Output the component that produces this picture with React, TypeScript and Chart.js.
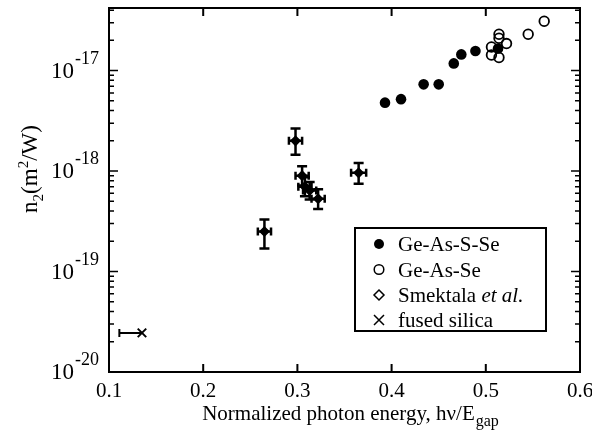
import React, { useEffect, useRef } from "react";
import { Chart, registerables } from "chart.js";
Chart.register(...registerables);

// Ge-As-S-Se (filled circles)
const gassX = [0.393, 0.41, 0.434, 0.45, 0.466, 0.474, 0.489, 0.513];
const gassY = [4.8e-18, 5.2e-18, 7.3e-18, 7.3e-18, 1.18e-17, 1.45e-17, 1.57e-17, 1.66e-17];

// Ge-As-Se (open circles)
const gasX = [0.514, 0.514, 0.522, 0.506, 0.506, 0.514, 0.545, 0.562];
const gasY = [2.3e-17, 2.1e-17, 1.86e-17, 1.72e-17, 1.43e-17, 1.35e-17, 2.3e-17, 3.1e-17];

// Smektala et al. (diamonds with error bars)
const smkX = [0.265, 0.298, 0.305, 0.308, 0.313, 0.322, 0.365];
const smkY = [2.5e-19, 2.0e-18, 9.0e-19, 7.0e-19, 6.4e-19, 5.3e-19, 9.6e-19];
const smkYLo = [1.7e-19, 1.45e-18, 7.2e-19, 5.6e-19, 5.2e-19, 4.2e-19, 7.5e-19];
const smkYHi = [3.3e-19, 2.65e-18, 1.12e-18, 8.7e-19, 7.8e-19, 6.6e-19, 1.2e-18];
const smkXErr = [0.007, 0.007, 0.007, 0.007, 0.007, 0.007, 0.008];

// fused silica (cross)
const fsX = [0.135];
const fsY = [2.45e-20];
const fsXLo = [0.111];

// axis ticks
const xTicks = [0.1, 0.2, 0.3, 0.4, 0.5, 0.6];
const xTickLabels = ["0.1", "0.2", "0.3", "0.4", "0.5", "0.6"];
const yDecades = [-20, -19, -18, -17];
const yMin = 1e-20;
const yMax = 4.2e-17;

const legendLabels = ["Ge-As-S-Se", "Ge-As-Se", "Smektala", "fused silica"];

const SERIF = '"Liberation Serif", "DejaVu Serif", serif';

const decor = {
  id: "decor",
  afterDatasetsDraw(chart: any) {
    const ctx = chart.ctx as CanvasRenderingContext2D;
    const xs = chart.scales.x;
    const ys = chart.scales.y;
    const ca = chart.chartArea;
    ctx.save();
    ctx.strokeStyle = "#000";
    ctx.fillStyle = "#000";

    // error bars (Smektala)
    ctx.lineWidth = 2.5;
    for (let i = 0; i < smkX.length; i++) {
      const px = xs.getPixelForValue(smkX[i]);
      const py = ys.getPixelForValue(smkY[i]);
      const yl = ys.getPixelForValue(smkYLo[i]);
      const yh = ys.getPixelForValue(smkYHi[i]);
      const xl = xs.getPixelForValue(smkX[i] - smkXErr[i]);
      const xh = xs.getPixelForValue(smkX[i] + smkXErr[i]);
      ctx.beginPath();
      ctx.moveTo(px, yl); ctx.lineTo(px, yh);
      ctx.moveTo(px - 5, yl); ctx.lineTo(px + 5, yl);
      ctx.moveTo(px - 5, yh); ctx.lineTo(px + 5, yh);
      ctx.moveTo(xl, py); ctx.lineTo(xh, py);
      ctx.moveTo(xl, py - 4); ctx.lineTo(xl, py + 4);
      ctx.moveTo(xh, py - 4); ctx.lineTo(xh, py + 4);
      ctx.stroke();
    }
    // fused silica horizontal bar
    ctx.lineWidth = 2;
    for (let i = 0; i < fsX.length; i++) {
      const px = xs.getPixelForValue(fsX[i]);
      const py = ys.getPixelForValue(fsY[i]);
      const xl = xs.getPixelForValue(fsXLo[i]);
      ctx.beginPath();
      ctx.moveTo(xl, py); ctx.lineTo(px, py);
      ctx.moveTo(xl, py - 4); ctx.lineTo(xl, py + 4);
      ctx.stroke();
    }

    // frame
    ctx.lineWidth = 2;
    ctx.strokeRect(ca.left, ca.top, ca.right - ca.left, ca.bottom - ca.top);

    // x ticks
    ctx.lineWidth = 2;
    ctx.beginPath();
    for (const v of xTicks) {
      const px = xs.getPixelForValue(v);
      ctx.moveTo(px, ca.bottom); ctx.lineTo(px, ca.bottom - 8);
      ctx.moveTo(px, ca.top); ctx.lineTo(px, ca.top + 8);
    }
    ctx.stroke();
    // y ticks
    ctx.lineWidth = 1.5;
    ctx.beginPath();
    for (const d of yDecades.concat([-16])) {
      for (let m = 1; m <= 9; m++) {
        const v = m * Math.pow(10, d);
        if (v < yMin * 0.999 || v > yMax) continue;
        const py = ys.getPixelForValue(v);
        const len = m === 1 ? 9 : 5;
        ctx.moveTo(ca.left, py); ctx.lineTo(ca.left + len, py);
        ctx.moveTo(ca.right, py); ctx.lineTo(ca.right - len, py);
      }
    }
    ctx.stroke();

    // x tick labels
    ctx.font = `21px ${SERIF}`;
    ctx.textAlign = "center";
    ctx.textBaseline = "alphabetic";
    xTicks.forEach((v, i) => {
      ctx.fillText(xTickLabels[i], xs.getPixelForValue(v), ca.bottom + 25);
    });

    // y tick labels
    for (const d of yDecades) {
      const py = ys.getPixelForValue(Math.pow(10, d));
      const sup = String(d);
      ctx.font = `18px ${SERIF}`;
      const sw = ctx.measureText(sup).width + 2;
      ctx.textAlign = "left";
      ctx.fillText(sup, 101 - sw, py - 7);
      ctx.font = `23px ${SERIF}`;
      ctx.textAlign = "right";
      ctx.fillText("10", 100 - sw, py + 7);
    }

    // x title
    ctx.textAlign = "left";
    ctx.font = `21px ${SERIF}`;
    const main = "Normalized photon energy, h\u03bd/E";
    const mw = ctx.measureText(main).width;
    ctx.font = `16px ${SERIF}`;
    const gw = ctx.measureText("gap").width;
    const x0 = 350 - (mw + gw) / 2;
    ctx.font = `21px ${SERIF}`;
    ctx.fillText(main, x0, 420);
    ctx.font = `16px ${SERIF}`;
    ctx.fillText("gap", x0 + mw + 1, 426);

    // y title
    ctx.save();
    ctx.translate(37, 169);
    ctx.rotate(-Math.PI / 2);
    const parts: [string, number, number][] = [
      ["n", 23, 0], ["2", 15, 6], ["(m", 23, 0], ["2", 15, -9], ["/W)", 23, 0],
    ];
    let tw = 0;
    for (const [t, s] of parts) { ctx.font = `${s}px ${SERIF}`; tw += ctx.measureText(t).width; }
    let cx = -tw / 2;
    for (const [t, s, dy] of parts) {
      ctx.font = `${s}px ${SERIF}`;
      ctx.fillText(t, cx, dy);
      cx += ctx.measureText(t).width;
    }
    ctx.restore();

    // legend
    const lx = 355, ly = 228, lw = 191, lh = 103;
    ctx.lineWidth = 2;
    ctx.strokeRect(lx, ly, lw, lh);
    const rowY = [244, 269.5, 295, 320];
    const mx = 379;
    ctx.lineWidth = 1.5;
    // filled circle
    ctx.beginPath(); ctx.arc(mx, rowY[0], 5, 0, Math.PI * 2); ctx.fill();
    // open circle
    ctx.beginPath(); ctx.arc(mx, rowY[1], 4.8, 0, Math.PI * 2); ctx.stroke();
    // diamond
    ctx.beginPath();
    ctx.moveTo(mx, rowY[2] - 5); ctx.lineTo(mx + 5, rowY[2]); ctx.lineTo(mx, rowY[2] + 5); ctx.lineTo(mx - 5, rowY[2]); ctx.closePath();
    ctx.stroke();
    // cross
    ctx.beginPath();
    ctx.moveTo(mx - 5, rowY[3] - 5); ctx.lineTo(mx + 5, rowY[3] + 5);
    ctx.moveTo(mx + 5, rowY[3] - 5); ctx.lineTo(mx - 5, rowY[3] + 5);
    ctx.stroke();
    ctx.textAlign = "left";
    ctx.font = `21px ${SERIF}`;
    const tx = 398;
    ctx.fillText(legendLabels[0], tx, rowY[0] + 7);
    ctx.fillText(legendLabels[1], tx, rowY[1] + 7);
    ctx.fillText(legendLabels[2] + " ", tx, rowY[2] + 7);
    const sw2 = ctx.measureText(legendLabels[2] + " ").width;
    ctx.font = `italic 21px ${SERIF}`;
    ctx.fillText("et al.", tx + sw2, rowY[2] + 7);
    ctx.font = `21px ${SERIF}`;
    ctx.fillText(legendLabels[3], tx, rowY[3] + 7);

    ctx.restore();
  },
};

export default function App() {
  const ref = useRef<HTMLCanvasElement>(null);
  useEffect(() => {
    const toPts = (xa: number[], ya: number[]) => xa.map((x, i) => ({ x, y: ya[i] }));
    const chart = new Chart(ref.current!, {
      type: "scatter",
      data: {
        datasets: [
          {
            label: legendLabels[0],
            data: toPts(gassX, gassY),
            pointStyle: "circle",
            pointRadius: 5.3,
            backgroundColor: "#000",
            borderColor: "#000",
            borderWidth: 0,
          },
          {
            label: legendLabels[1],
            data: toPts(gasX, gasY),
            pointStyle: "circle",
            pointRadius: 4.8,
            backgroundColor: "rgba(0,0,0,0)",
            borderColor: "#000",
            borderWidth: 1.8,
          },
          {
            label: legendLabels[2],
            data: toPts(smkX, smkY),
            pointStyle: "rectRot",
            pointRadius: 4.5,
            backgroundColor: "#000",
            borderColor: "#000",
            borderWidth: 1.5,
          },
          {
            label: legendLabels[3],
            data: toPts(fsX, fsY),
            pointStyle: "crossRot",
            pointRadius: 6,
            backgroundColor: "#000",
            borderColor: "#000",
            borderWidth: 2,
          },
        ],
      },
      options: {
        animation: false,
        responsive: true,
        maintainAspectRatio: false,
        layout: { padding: { left: 109, right: 12, top: 6, bottom: 63 } },
        plugins: { legend: { display: false }, tooltip: { enabled: false } },
        scales: {
          x: { type: "linear", min: 0.1, max: 0.6, display: false },
          y: { type: "logarithmic", min: yMin, max: yMax, display: false },
        },
      },
      plugins: [decor],
    } as any);
    return () => chart.destroy();
  }, []);
  return (
    <div style={{ position: "fixed", left: 0, top: 0, width: 592, height: 435, background: "#fff" }}>
      <canvas ref={ref} />
    </div>
  );
}
